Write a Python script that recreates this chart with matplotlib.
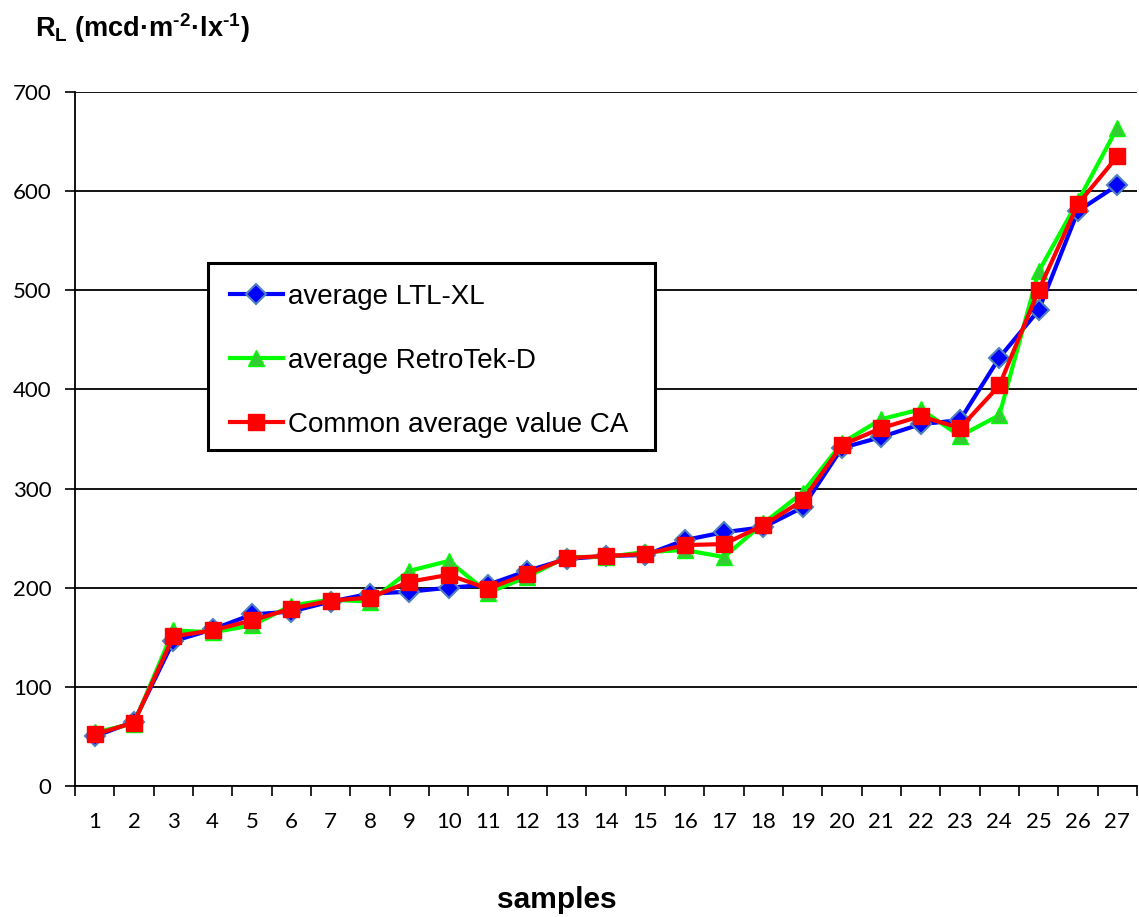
import matplotlib
matplotlib.use("Agg")
import matplotlib.pyplot as plt
from matplotlib.ticker import MultipleLocator, FixedLocator
from matplotlib.patches import Rectangle
from matplotlib.transforms import IdentityTransform

plt.rcParams['font.family'] = ['Liberation Sans', 'DejaVu Sans']
plt.rcParams['mathtext.fontset'] = 'custom'
plt.rcParams['mathtext.rm'] = 'Liberation Sans:bold'
plt.rcParams['mathtext.bf'] = 'Liberation Sans:bold'
plt.rcParams['mathtext.it'] = 'Liberation Sans:bold'

samples = list(range(1, 28))
ltl_xl = [50, 65, 146, 158, 173, 176, 186, 194, 196, 200, 203, 217, 229, 232, 233,
          248, 256, 261, 281, 341, 352, 365, 369, 432, 480, 580, 606]
retrotek = [54, 63, 157, 155, 162, 182, 188, 186, 217, 227, 195, 211, 231, 231, 236,
            238, 231, 265, 296, 346, 370, 380, 353, 374, 519, 590, 664]
common = [52, 64, 151, 157, 167, 179, 187, 190, 206, 213, 199, 214, 230, 232, 234,
          243, 244, 263, 288, 344, 361, 373, 361, 404, 500, 587, 635]

W, H = 1139, 917
fig = plt.figure(figsize=(W/100, H/100), dpi=100)
ax = fig.add_axes([75/W, 1-786/H, (1137-75)/W, (786-92)/H])

lw = 3.0
ax.plot(samples, ltl_xl, color='#0000ff', lw=lw, marker='D', ms=10,
        markerfacecolor='#0000ff', markeredgecolor='#4f81bd', markeredgewidth=1.5,
        label='average LTL-XL', zorder=3)
ax.plot(samples, retrotek, color='#00ff00', lw=lw, marker='^', ms=12,
        markerfacecolor='#33cc33', markeredgecolor='#00ff00', markeredgewidth=1.0,
        label='average RetroTek-D', zorder=4)
ax.plot(samples, common, color='#ff0000', lw=lw, marker='s', ms=11,
        markerfacecolor='#ff0000', markeredgecolor='#ff0000',
        label='Common average value CA', zorder=5)

ax.set_xlim(0.5, 27.5)
ax.set_ylim(0, 700)
ax.yaxis.set_major_locator(MultipleLocator(100))
ax.set_xticks(samples)
ax.set_xticklabels([str(s) for s in samples])
ax.xaxis.set_minor_locator(FixedLocator([i + 0.5 for i in range(0, 28)]))
ax.tick_params(axis='x', which='major', length=0, labelsize=16, pad=19)
ax.tick_params(axis='x', which='minor', length=7, width=1.2, direction='out')
ax.tick_params(axis='y', which='major', length=7, width=1.2, direction='out',
               labelsize=16, pad=10)
for lab in ax.get_xticklabels() + ax.get_yticklabels():
    lab.set_family(['Lato', 'DejaVu Sans'])

ax.grid(axis='y', color='black', lw=1.3)
ax.set_axisbelow(True)
for s in ['top', 'right']:
    ax.spines[s].set_visible(False)
ax.spines['left'].set_linewidth(1.3)
ax.spines['bottom'].set_linewidth(1.3)

# legend frame (Excel-style box)
box = Rectangle((208/W, 1-450/H), (655-208)/W, (450-263)/H, transform=fig.transFigure,
                facecolor='white', edgecolor='black', linewidth=2.2, zorder=6)
ax.add_patch(box)
box.set_clip_on(False)

ident = IdentityTransform()
fs = 20
spacing = 1.38


def make_legend(ls, anchor):
    lg = ax.legend(loc='upper left', bbox_to_anchor=anchor, bbox_transform=ident,
                   fontsize=fs, frameon=False, handlelength=1.9, handletextpad=0.2,
                   labelspacing=ls, borderpad=0.0, borderaxespad=0)
    lg.set_zorder(7)
    return lg


def handle_pos(lg, i):
    fig.canvas.draw()
    hl = lg.legend_handles[i]
    pts = hl.get_transform().transform(hl.get_xydata())
    return pts[:, 0].min(), pts[:, 1].mean()


anchor = (230, H - 270)
leg = make_legend(spacing, anchor)
_, y1 = handle_pos(leg, 0)
_, y3 = handle_pos(leg, 2)
gap = (y1 - y3) / 2
spacing += (64 - gap) / (fs * 100 / 72)
leg.remove()
leg = make_legend(spacing, anchor)
x1, y1 = handle_pos(leg, 0)
dx = 230 - x1
dy = (H - 294) - y1
leg.set_bbox_to_anchor((anchor[0] + dx, anchor[1] + dy), transform=ident)

fig.text(35/W, 1-28/H,
         r'R$_{\mathrm{L}}$ (mcd·m$^{\text{-2}}$·lx$^{\text{-1}}$)',
         fontsize=19.5, fontweight='bold', va='center', ha='left')
fig.text(557/W, 1-900/H, 'samples', fontsize=21.5, fontweight='bold',
         va='center', ha='center')

fig.savefig('out.png', dpi=100)
